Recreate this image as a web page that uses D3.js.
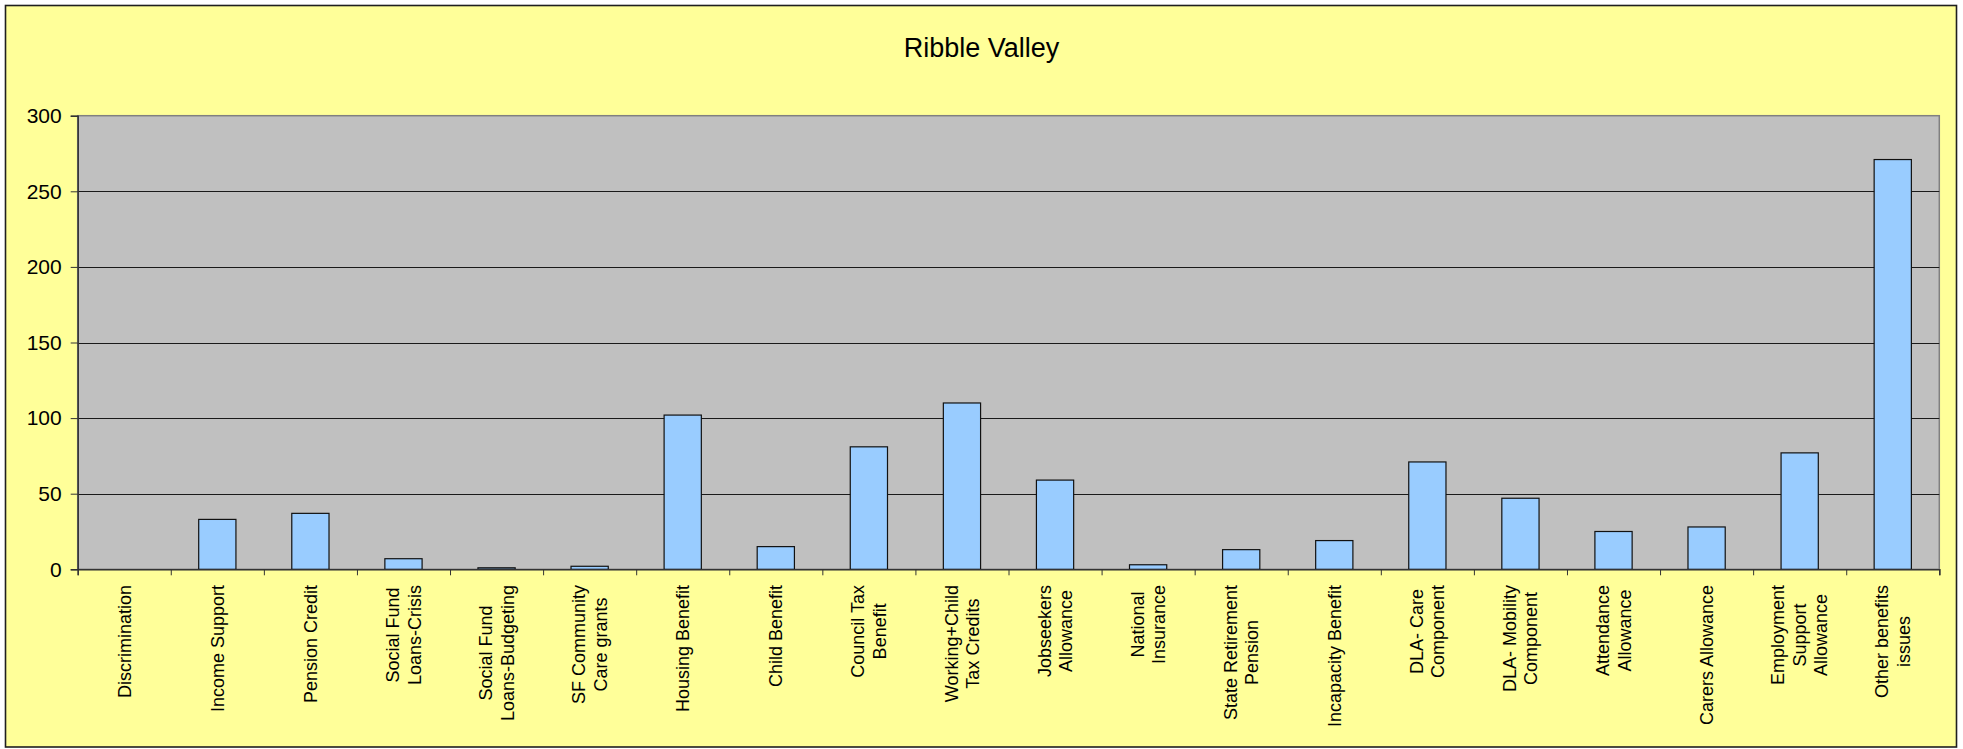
<!DOCTYPE html>
<html>
<head>
<meta charset="utf-8">
<script src="https://cdn.jsdelivr.net/npm/d3@7/dist/d3.min.js"></script>
<style>
  html, body { margin: 0; padding: 0; background: #ffffff; }
  svg { display: block; }
  text { font-family: "Liberation Sans", Arial, sans-serif; fill: #000; }
</style>
</head>
<body>
<svg id="chart" width="1963" height="749"></svg>
<script>
// Benefit enquiry categories (line breaks as shown under the axis)
const categories = [
  ["Discrimination"],
  ["Income Support"],
  ["Pension Credit"],
  ["Social Fund", "Loans-Crisis"],
  ["Social Fund", "Loans-Budgeting"],
  ["SF Community", "Care grants"],
  ["Housing Benefit"],
  ["Child Benefit"],
  ["Council Tax", "Benefit"],
  ["Working+Child", "Tax Credits"],
  ["Jobseekers", "Allowance"],
  ["National", "Insurance"],
  ["State Retirement", "Pension"],
  ["Incapacity Benefit"],
  ["DLA- Care", "Component"],
  ["DLA- Mobility", "Component"],
  ["Attendance", "Allowance"],
  ["Carers Allowance"],
  ["Employment", "Support", "Allowance"],
  ["Other benefits", "issues"]
];
const values = [0, 33, 37, 7, 1, 2, 102, 15, 81, 110, 59, 3, 13, 19, 71, 47, 25, 28, 77, 271];
const yTicks = [0, 50, 100, 150, 200, 250, 300];
const title = "Ribble Valley";

const svg = d3.select("#chart");
const plot = { left: 77.7, right: 1939.3, top: 115.7, bottom: 569.3 };

// Chart background and frame
svg.append("rect")
  .attr("x", 5.5).attr("y", 5.5)
  .attr("width", 1951).attr("height", 741.5)
  .attr("fill", "#FFFF99")
  .attr("stroke", "#1f1f1f").attr("stroke-width", 1.6);

// Title
svg.append("text")
  .attr("x", 981.5).attr("y", 57.3)
  .attr("text-anchor", "middle")
  .style("font-size", "27px")
  .text(title);

const keys = categories.map(c => c.join(" "));

const x = d3.scaleBand()
  .domain(keys)
  .range([plot.left, plot.right])
  .paddingInner(0.6)
  .paddingOuter(0.3);

const xEdges = d3.scaleLinear()
  .domain([0, categories.length])
  .range([plot.left, plot.right]);

const y = d3.scaleLinear()
  .domain([0, 300])
  .range([plot.bottom, plot.top]);

// Plot area
svg.append("rect")
  .attr("x", plot.left).attr("y", plot.top)
  .attr("width", plot.right - plot.left)
  .attr("height", plot.bottom - plot.top)
  .attr("fill", "#C0C0C0")
  .attr("stroke", "#808080").attr("stroke-width", 1.5);

// Horizontal gridlines
svg.append("g")
  .selectAll("line")
  .data(yTicks.filter(t => t > 0 && t < 300))
  .join("line")
  .attr("x1", plot.left).attr("x2", plot.right)
  .attr("y1", d => Math.round(y(d)) + 0.5)
  .attr("y2", d => Math.round(y(d)) + 0.5)
  .attr("stroke", "#1a1a1a").attr("stroke-width", 1);

// Bars
svg.append("g")
  .selectAll("rect")
  .data(values)
  .join("rect")
  .attr("x", (d, i) => x(keys[i]))
  .attr("y", d => y(d))
  .attr("width", x.bandwidth())
  .attr("height", d => plot.bottom - y(d))
  .attr("fill", "#99CCFF")
  .attr("stroke", "#111")
  .attr("stroke-width", 1.2);

// Y axis
const yAxis = svg.append("g")
  .attr("transform", `translate(${plot.left},0)`)
  .call(d3.axisLeft(y).tickValues(yTicks).tickSize(7).tickPadding(9).tickFormat(d3.format("d")));
yAxis.select(".domain").attr("stroke", "#333").attr("stroke-width", 1.5);
yAxis.selectAll(".tick line").attr("stroke", "#333");
yAxis.selectAll(".tick text")
  .style("font-size", "21px")
  .style("font-family", "\"Liberation Sans\", Arial, sans-serif")
  .attr("fill", "#000");

// X axis with ticks between categories
const xAxis = svg.append("g")
  .attr("transform", `translate(0,${plot.bottom})`)
  .call(d3.axisBottom(xEdges).tickValues(d3.range(categories.length + 1)).tickSize(6).tickFormat(""));
xAxis.select(".domain").attr("stroke", "#333").attr("stroke-width", 1.5);
xAxis.selectAll(".tick line").attr("stroke", "#333");

// Rotated category labels, lines centred, block top-aligned below the axis
const labelTop = 585;
const lineH = 21.5;
const labels = svg.append("g");
categories.forEach((lines, i) => {
  const cx = x(keys[i]) + x.bandwidth() / 2;
  const g = labels.append("g");
  const n = lines.length;
  const texts = lines.map((ln, j) =>
    g.append("text")
      .attr("text-anchor", "middle")
      .attr("y", (j - (n - 1) / 2) * lineH)
      .attr("dy", "0.35em")
      .style("font-size", "18px")
      .text(ln));
  const maxW = d3.max(texts, t => t.node().getComputedTextLength());
  texts.forEach(t => t.attr("x", -maxW / 2));
  g.attr("transform", `translate(${cx},${labelTop}) rotate(-90)`);
});
</script>
</body>
</html>
